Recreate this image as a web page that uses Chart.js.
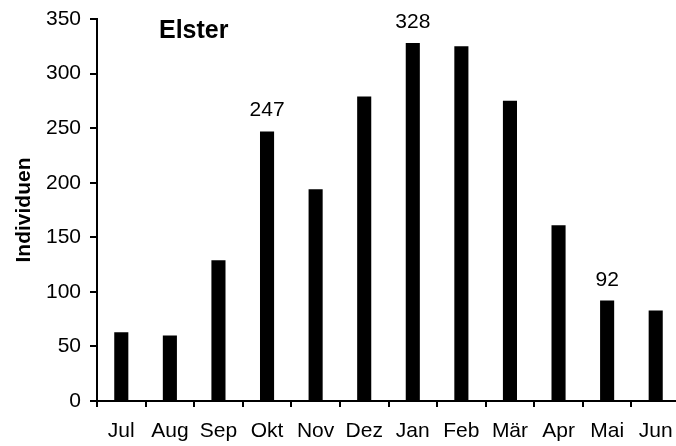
<!DOCTYPE html>
<html>
<head>
<meta charset="utf-8">
<script src="https://cdn.jsdelivr.net/npm/chart.js@4/dist/chart.umd.min.js"></script>
<style>
  html, body { margin: 0; padding: 0; background: #fff; overflow: hidden; }
  canvas { display: block; }
</style>
</head>
<body>
<canvas id="barChart" width="680" height="446"></canvas>
<script>
// data
var months = ['Jul', 'Aug', 'Sep', 'Okt', 'Nov', 'Dez', 'Jan', 'Feb', 'Mär', 'Apr', 'Mai', 'Jun'];
var individuen = [63, 60, 129, 247, 194, 279, 328, 325, 275, 161, 92, 83];
var labelledMonths = ['Okt', 'Jan', 'Mai'];
var yTicks = [0, 50, 100, 150, 200, 250, 300, 350];

var FONT = '"Liberation Sans", Arial, sans-serif';

// value labels above some bars + the "Elster" caption
var annotate = {
    id: 'annotate',
    afterDatasetsDraw: function(chart) {
        var ctx = chart.ctx;
        var meta = chart.getDatasetMeta(0);
        ctx.save();
        ctx.fillStyle = '#000';
        ctx.textAlign = 'center';
        ctx.textBaseline = 'alphabetic';
        ctx.font = '21px ' + FONT;
        meta.data.forEach(function(bar, i) {
            if (labelledMonths.indexOf(months[i]) >= 0) {
                ctx.fillText(individuen[i], bar.x, bar.y - 15);
            }
        });
        ctx.textAlign = 'left';
        ctx.font = 'bold 25px ' + FONT;
        ctx.fillText('Elster', chart.chartArea.left + 62, chart.chartArea.top + 19);
        ctx.restore();
    }
};

document.addEventListener("DOMContentLoaded", function() {
    var ctx = document.getElementById('barChart').getContext('2d');
    var chart = new Chart(ctx, {
        type: 'bar',
        data: {
            labels: months,
            datasets: [{
                data: individuen,
                backgroundColor: '#000',
                borderWidth: 0,
                barPercentage: 0.29,
                categoryPercentage: 1
            }]
        },
        options: {
            responsive: false,
            animation: false,
            layout: { padding: { top: 19, left: 0, right: 0, bottom: 0 } },
            plugins: {
                legend: { display: false },
                tooltip: { enabled: false }
            },
            scales: {
                x: {
                    offset: true,
                    grid: {
                        offset: true,
                        drawOnChartArea: false,
                        drawTicks: true,
                        tickLength: 6,
                        color: '#000',
                        lineWidth: 2
                    },
                    border: { color: '#000', width: 2 },
                    ticks: {
                        color: '#000',
                        font: { family: FONT, size: 21 },
                        padding: 12,
                        maxRotation: 0,
                        autoSkip: false
                    },
                    afterFit: function(scale) {
                        scale.height = 45;
                        scale.paddingLeft = 0;
                        scale.paddingRight = 0;
                    }
                },
                y: {
                    min: 0,
                    max: 350,
                    afterBuildTicks: function(scale) {
                        scale.ticks = yTicks.map(function(v) { return { value: v }; });
                    },
                    grid: {
                        drawOnChartArea: false,
                        drawTicks: true,
                        tickLength: 7,
                        color: '#000',
                        lineWidth: 2
                    },
                    border: { color: '#000', width: 2 },
                    ticks: {
                        color: '#000',
                        font: { family: FONT, size: 21 },
                        padding: 9
                    },
                    title: {
                        display: true,
                        text: 'Individuen',
                        color: '#000',
                        font: { family: FONT, size: 21, weight: 'bold' },
                        padding: { top: 12, bottom: 0 }
                    },
                    afterFit: function(scale) {
                        scale.width = 97;
                        scale.paddingTop = 0;
                        scale.paddingBottom = 0;
                    }
                }
            }
        },
        plugins: [annotate]
    });
});
</script>
</body>
</html>
